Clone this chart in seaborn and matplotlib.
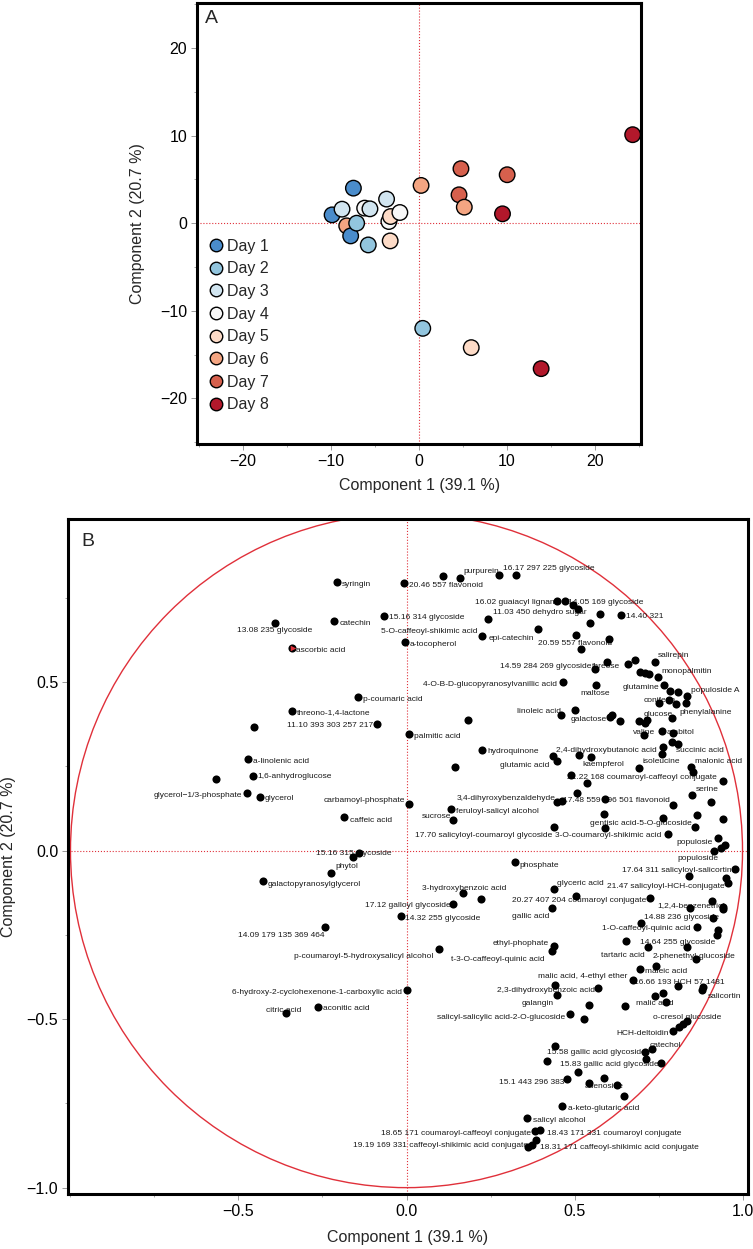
import matplotlib
matplotlib.use("Agg")
import pandas as pd
import matplotlib.pyplot as plt
from matplotlib.lines import Line2D
from matplotlib.patches import Circle
from matplotlib.ticker import MultipleLocator
import seaborn as sns

# ---------------- Panel A: scores ----------------
days = ["Day 1", "Day 2", "Day 3", "Day 4", "Day 5", "Day 6", "Day 7", "Day 8"]
day_colors = ["#4a8ccb", "#92c5de", "#d1e5f0", "#f7f7f7",
              "#fddbc7", "#f4a582", "#d6604d", "#b2182b"]

# samples in drawing order
score_day = [1, 1, 6, 1, 2, 2, 3, 4, 3, 3, 4, 5, 4, 5, 6, 7, 7, 6, 7, 8, 8, 2, 5, 8]
score_x = [-9.85, -7.43, -8.19, -7.74, -7.06, -5.74, -8.72, -6.15, -5.55, -3.66,
           -3.40, -3.21, -2.15, -3.25, 0.26, 4.79, 4.57, 5.17, 10.04, 9.51,
           24.3, 0.45, 5.96, 13.9]
score_y = [0.95, 4.0, -0.3, -1.45, 0.0, -2.48, 1.6, 1.72, 1.64, 2.75,
           0.19, 0.76, 1.22, -2.02, 4.31, 6.22, 3.24, 1.83, 5.53, 1.07,
           10.1, -12.0, -14.2, -16.6]

# ---------------- Panel B: loadings ----------------
load_x = [-0.208, -0.007, -0.391, -0.215, -0.067, -0.005, -0.342, -0.145, -0.340, -0.089,
          -0.455, 0.008, -0.471, 0.144, -0.458, -0.568, -0.474, -0.436, 0.007, 0.110,
          0.160, 0.275, 0.326, 0.449, 0.473, 0.496, 0.511, 0.243, 0.576, 0.638,
          0.546, 0.392, 0.224, 0.504, 0.604, 0.519, 0.561, 0.598, 0.658, 0.681,
          0.739, 0.695, 0.710, 0.723, 0.748, 0.465, 0.564, 0.767, 0.784, 0.809,
          0.834, 0.752, 0.780, 0.801, 0.831, 0.182, 0.460, 0.501, 0.606, 0.612,
          0.635, 0.691, 0.710, 0.715, 0.789, 0.706, 0.761, 0.792, 0.789, 0.808,
          0.764, 0.760, 0.436, 0.447, 0.513, 0.549, 0.691, 0.847, 0.852, 0.225,
          0.490, 0.536, 0.943, 0.851, 0.906, 0.447, 0.462, 0.507, 0.591, 0.793,
          0.132, 0.588, 0.139, 0.762, 0.859, 0.864, 0.941, 0.439, 0.591, 0.777,
          0.928, 0.948, 0.936, 0.915, 0.323, 0.842, 0.978, 0.951, 0.958, 0.438,
          0.504, 0.432, 0.725, 0.169, 0.222, 0.138, -0.016, 0.844, 0.910, 0.941,
          0.943, 0.698, 0.913, 0.864, 0.928, 0.923, 0.653, 0.720, 0.836, 0.439,
          0.434, 0.096, 0.861, 0.695, 0.742, 0.673, 0.807, 0.883, 0.879, 0.442,
          0.449, 0.571, 0.544, 0.651, 0.740, 0.762, 0.771, 0.487, 0.529, 0.834,
          0.823, 0.811, 0.794, 0.001, 0.730, 0.710, 0.713, 0.757, 0.443, 0.419,
          0.511, 0.479, 0.544, 0.588, 0.627, 0.648, 0.464, 0.360, 0.382, 0.397,
          0.361, 0.373, 0.385, -0.186, -0.140, -0.160, -0.225, -0.428, -0.243, -0.263,
          -0.360]
load_y = [0.796, 0.793, 0.676, 0.681, 0.697, 0.619, 0.600, 0.456, 0.414, 0.377,
          0.366, 0.345, 0.272, 0.249, 0.223, 0.214, 0.170, 0.160, 0.139, 0.815,
          0.810, 0.818, 0.818, 0.741, 0.741, 0.728, 0.716, 0.687, 0.701, 0.699,
          0.677, 0.657, 0.637, 0.639, 0.627, 0.598, 0.538, 0.560, 0.555, 0.565,
          0.560, 0.531, 0.526, 0.524, 0.514, 0.500, 0.491, 0.491, 0.474, 0.471,
          0.458, 0.437, 0.447, 0.434, 0.438, 0.389, 0.402, 0.418, 0.397, 0.402,
          0.384, 0.385, 0.379, 0.389, 0.394, 0.343, 0.355, 0.350, 0.321, 0.318,
          0.308, 0.286, 0.281, 0.266, 0.285, 0.277, 0.244, 0.249, 0.232, 0.300,
          0.224, 0.202, 0.207, 0.165, 0.143, 0.145, 0.147, 0.170, 0.152, 0.135,
          0.124, 0.110, 0.090, 0.096, 0.071, 0.107, 0.093, 0.071, 0.066, 0.049,
          0.039, 0.016, 0.007, -0.001, -0.035, -0.076, -0.053, -0.082, -0.096, -0.115,
          -0.134, -0.170, -0.139, -0.125, -0.142, -0.157, -0.194, -0.170, -0.150, -0.167,
          -0.174, -0.214, -0.199, -0.226, -0.236, -0.251, -0.269, -0.285, -0.285, -0.282,
          -0.297, -0.291, -0.322, -0.352, -0.342, -0.384, -0.402, -0.404, -0.414, -0.399,
          -0.429, -0.407, -0.459, -0.461, -0.432, -0.421, -0.449, -0.485, -0.501, -0.504,
          -0.513, -0.524, -0.536, -0.414, -0.590, -0.597, -0.617, -0.630, -0.579, -0.624,
          -0.656, -0.679, -0.689, -0.675, -0.696, -0.728, -0.759, -0.793, -0.831, -0.829,
          -0.879, -0.872, -0.859, 0.099, -0.007, -0.018, -0.065, -0.091, -0.226, -0.464,
          -0.483]

label_text = [
    "syringin", "20.46 557 flavonoid", "13.08 235 glycoside", "catechin",
    "15.16 314 glycoside", "5-O-caffeoyl-shikimic acid", "a-tocopherol", "ascorbic acid",
    "p-coumaric acid", "threono-1,4-lactone", "11.10 393 303 257 217", "palmitic acid",
    "a-linolenic acid", "1,6-anhydroglucose", "glycerol\u22121/3-phosphate", "glycerol",
    "carbamoyl-phosphate", "purpurein", "16.17 297 225 glycoside", "16.02 guaiacyl lignan",
    "14.05 169 glycoside", "11.03 450 dehydro sugar", "14.40 321", "epi-catechin",
    "20.59 557 flavonoid", "14.59 284 269 glycoside", "threose", "salirepin",
    "monopalmitin", "4-O-B-D-glucopyranosylvanillic acid", "maltose", "glutamine",
    "populoside A", "coniferin", "linoleic acid", "galactose", "glucose", "phenylalanine",
    "valine", "arabitol", "hydroquinone", "2,4-dihydroxybutanoic acid", "succinic acid",
    "glutamic acid", "kaempferol", "isoleucine", "malonic acid",
    "21.22 168 coumaroyl-caffeoyl conjugate", "serine", "3,4-dihyroxybenzaldehyde",
    "17.48 559 396 501 flavonoid", "feruloyl-salicyl alcohol", "sucrose",
    "gentisic acid-5-O-glucoside", "17.70 salicyloyl-coumaroyl glycoside",
    "3-O-coumaroyl-shikimic acid", "populosie", "populoside", "phosphate",
    "17.64 311 salicyloyl-salicortin", "glyceric acid", "21.47 salicyloyl-HCH-conjugate",
    "3-hydroxybenzoic acid", "20.27 407 204 coumaroyl conjugate", "1,2,4-benzenetriol",
    "17.12 galloyl glycoside", "gallic acid", "14.32 255 glycoside", "14.88 236 glycoside",
    "1-O-caffeoyl-quinic acid", "ethyl-phophate", "14.64 255 glycoside", "tartaric acid",
    "2-phenethyl-glucoside", "t-3-O-caffeoyl-quinic acid",
    "p-coumaroyl-5-hydroxysalicyl alcohol", "maleic acid", "malic acid, 4-ethyl ether",
    "16.66 193 HCH 57 1481", "2,3-dihydroxybenzoic acid", "salicortin", "galangin",
    "malic acid", "salicyl-salicylic acid-2-O-glucoside", "o-cresol glucoside",
    "HCH-deltoidin", "catechol", "15.58 gallic acid glycoside", "15.83 gallic acid glycoside",
    "15.1 443 296 383", "adenosine", "a-keto-glutaric acid", "salicyl alcohol",
    "18.65 171 coumaroyl-caffeoyl conjugate", "18.43 171 331 coumaroyl conjugate",
    "19.19 169 331 caffeoyl-shikimic acid conjugate",
    "18.31 171 caffeoyl-shikimic acid conjugate", "caffeic acid", "15.16 315 glycoside",
    "phytol", "galactopyranosylglycerol", "14.09 179 135 369 464",
    "6-hydroxy-2-cyclohexenone-1-carboxylic acid", "aconitic acid", "citric acid",
]
label_x = [
    -0.193, 0.008, -0.505, -0.200, -0.051, -0.077, 0.008, -0.329, -0.130, -0.325,
    -0.355, 0.023, -0.456, -0.443, -0.490, -0.421, -0.004, 0.169, 0.286, 0.204,
    0.482, 0.257, 0.653, 0.243, 0.392, 0.278, 0.553, 0.749, 0.760, 0.048,
    0.518, 0.643, 0.846, 0.705, 0.328, 0.489, 0.705, 0.812, 0.675, 0.774,
    0.240, 0.444, 0.802, 0.278, 0.524, 0.703, 0.859, 0.477, 0.862, 0.149,
    0.467, 0.147, 0.045, 0.546, 0.025, 0.442, 0.804, 0.806, 0.336, 0.640,
    0.447, 0.598, 0.045, 0.313, 0.746, -0.124, 0.313, -0.004, 0.707, 0.583,
    0.257, 0.695, 0.580, 0.733, 0.132, -0.335, 0.710, 0.392, 0.677, 0.268,
    0.898, 0.343, 0.683, 0.092, 0.733, 0.624, 0.723, 0.417, 0.457, 0.276,
    0.531, 0.482, 0.376, -0.077, 0.417, -0.160, 0.397, -0.168, -0.269, -0.213,
    -0.414, -0.501, -0.520, -0.249, -0.419,
]
label_y = [
    0.790, 0.788, 0.654, 0.674, 0.691, 0.649, 0.613, 0.595, 0.450, 0.409,
    0.370, 0.338, 0.266, 0.219, 0.163, 0.155, 0.150, 0.827, 0.837, 0.737,
    0.737, 0.707, 0.694, 0.630, 0.615, 0.548, 0.548, 0.579, 0.533, 0.493,
    0.466, 0.484, 0.476, 0.447, 0.414, 0.390, 0.405, 0.409, 0.351, 0.350,
    0.293, 0.296, 0.298, 0.254, 0.256, 0.264, 0.266, 0.217, 0.182, 0.155,
    0.148, 0.117, 0.100, 0.081, 0.046, 0.044, 0.023, -0.023, -0.043, -0.058,
    -0.096, -0.105, -0.113, -0.147, -0.162, -0.164, -0.194, -0.200, -0.198, -0.232,
    -0.275, -0.272, -0.310, -0.313, -0.322, -0.315, -0.360, -0.374, -0.392, -0.416,
    -0.432, -0.453, -0.453, -0.495, -0.495, -0.542, -0.577, -0.600, -0.636, -0.688,
    -0.701, -0.766, -0.800, -0.839, -0.839, -0.874, -0.882, 0.091, -0.007, -0.046,
    -0.100, -0.251, -0.421, -0.469, -0.473,
]
# labels written to the left of their point (anchored at their right end)
right_aligned = {"glycerol\u22121/3-phosphate", "carbamoyl-phosphate"}
# point marked with a small red triangle
marked_x = [-0.339]
marked_y = [0.600]

# ---------------- style ----------------
sns.set_style("ticks")
plt.rcParams['font.family'] = ['Liberation Sans', 'DejaVu Sans']
RED = "#e0303a"
FS = 11.5

fig = plt.figure(figsize=(7.53, 12.49), dpi=100)
axA = fig.add_axes([0.2616, 0.6445, 0.5903, 0.3529])
axB = fig.add_axes([0.0903, 0.0440, 0.9031, 0.5404])


def style_axis(ax, minor):
    for sp in ax.spines.values():
        sp.set_linewidth(2.2)
        sp.set_color("black")
    ax.xaxis.set_minor_locator(MultipleLocator(minor))
    ax.yaxis.set_minor_locator(MultipleLocator(minor))
    ax.tick_params(which="major", direction="out", length=4, width=0.7,
                   color="0.6", labelsize=FS, labelcolor="black", pad=3)
    ax.tick_params(which="minor", direction="out", length=2.5, width=0.6, color="0.6")


# Panel A
df_scores = pd.DataFrame({"x": score_x, "y": score_y,
                          "Day": ["Day %d" % d for d in score_day]})
axA.axhline(0, color=RED, ls=":", lw=0.8, zorder=1)
axA.axvline(0, color=RED, ls=":", lw=0.8, zorder=1)
sns.scatterplot(data=df_scores, x="x", y="y", hue="Day",
                palette=dict(zip(days, day_colors)), s=125,
                edgecolor="black", linewidth=1.0, legend=False, ax=axA, zorder=3)
axA.set_xlim(-25.2, 25.3)
axA.set_ylim(-25.2, 25.1)
axA.set_xticks([-20, -10, 0, 10, 20])
axA.set_yticks([-20, -10, 0, 10, 20])
style_axis(axA, 5)
axA.set_xlabel("Component 1 (39.1 %)", fontsize=FS)
axA.set_ylabel("Component 2 (20.7 %)", fontsize=FS)
axA.xaxis.set_label_coords(0.5, -0.078)
axA.yaxis.set_label_coords(-0.118, 0.5)
axA.text(0.018, 0.985, "A", transform=axA.transAxes, fontsize=14, va="top", ha="left")

handles = [Line2D([], [], marker="o", ls="", markerfacecolor=c, markeredgecolor="black",
                  markeredgewidth=1.0, markersize=9) for c in day_colors]
axA.legend(handles, days, loc="upper left", bbox_to_anchor=(0.024, 0.466),
           frameon=False, fontsize=FS, handletextpad=0.2, labelspacing=0.48,
           borderpad=0, borderaxespad=0, handlelength=1.0)

# Panel B
axB.axhline(0, color=RED, ls=":", lw=0.8, zorder=1)
axB.axvline(0, color=RED, ls=":", lw=0.8, zorder=1)
axB.add_patch(Circle((0, 0), 1, fill=False, color=RED, lw=1.0, zorder=1.5))
for t, lx, ly in zip(label_text, label_x, label_y):
    axB.text(lx, ly, t, fontsize=6.0, color="#1a1a1a", va="center",
             ha="right" if t in right_aligned else "left", zorder=2)
sns.scatterplot(x=load_x, y=load_y, color="black", s=34, linewidth=0, ax=axB, zorder=3)
axB.scatter(marked_x, marked_y, marker=">", s=16, color=RED, linewidths=0, zorder=4)
axB.set_xlim(-1.0074, 1.0164)
axB.set_ylim(-1.019, 0.984)
axB.set_xticks([-0.5, 0.0, 0.5, 1.0])
axB.set_yticks([-1.0, -0.5, 0.0, 0.5])
style_axis(axB, 0.25)
axB.set_xlabel("Component 1 (39.1 %)", fontsize=FS)
axB.set_ylabel("Component 2 (20.7 %)", fontsize=FS)
axB.xaxis.set_label_coords(0.5, -0.054)
axB.yaxis.set_label_coords(-0.077, 0.5)
axB.text(0.020, 0.979, "B", transform=axB.transAxes, fontsize=14, va="top", ha="left")

fig.savefig("out.png", dpi=100)
